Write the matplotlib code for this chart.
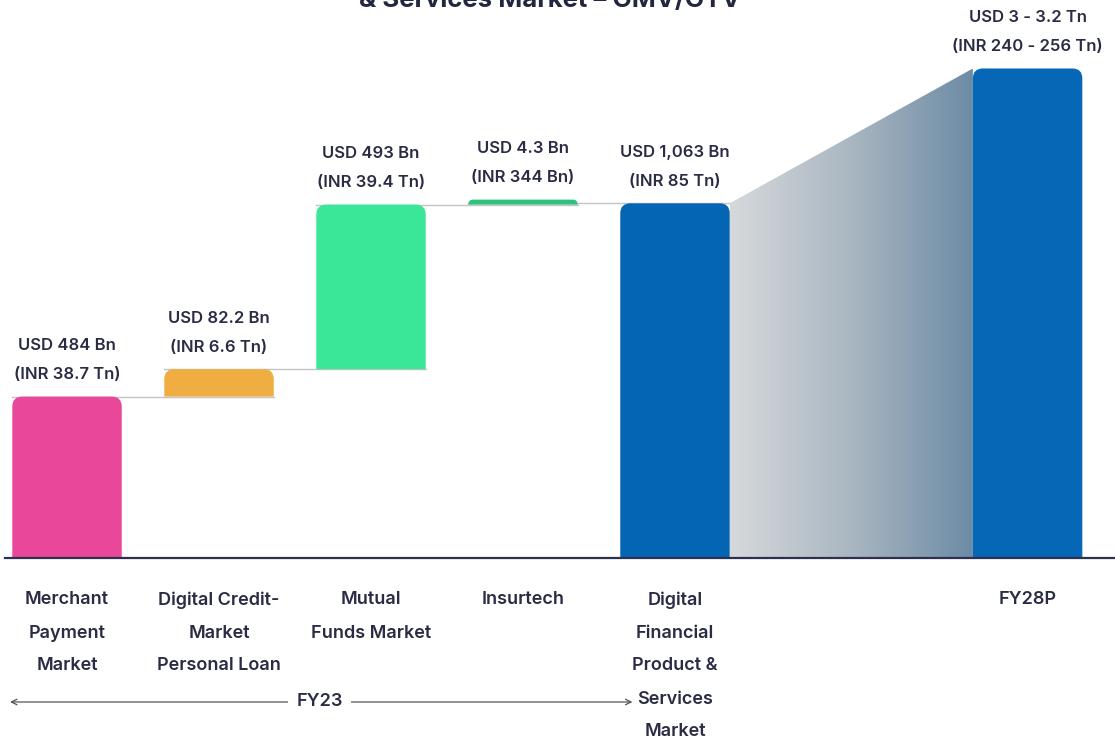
import numpy as np
import matplotlib
matplotlib.use("Agg")
import matplotlib.pyplot as plt
from matplotlib.patches import PathPatch, Polygon
from matplotlib.path import Path
from matplotlib.transforms import IdentityTransform

plt.rcParams['font.family'] = ['Inter', 'DejaVu Sans']

# market size in USD Bn (FY23 build-up, then FY28 projection)
categories = [["Merchant", "Payment", "Market"],
              ["Digital Credit-", "Market", "Personal Loan"],
              ["Mutual", "Funds Market"],
              ["Insurtech"],
              ["Digital", "Financial", "Product &", "Services", "Market"],
              ["FY28P"]]
usd_labels = ["USD 484 Bn", "USD 82.2 Bn", "USD 493 Bn", "USD 4.3 Bn",
              "USD 1,063 Bn", "USD 3 - 3.2 Tn"]
inr_labels = ["(INR 38.7 Tn)", "(INR 6.6 Tn)", "(INR 39.4 Tn)", "(INR 344 Bn)",
              "(INR 85 Tn)", "(INR 240 - 256 Tn)"]
segments = [484, 82.2, 493, 4.3]      # stacked pieces of FY23
fy23_total = 1063
fy28_range = (3000, 3200)

colors = ["#e9489a", "#f0ad42", "#3ae698", "#2fc27f", "#0565b5", "#0767b7"]
TEXT = "#2a2c44"

positions = [0, 1, 2, 3, 4, 6.32]
BAR_W = 0.72

# above FY23 total the axis is compressed so the projection fits
BREAK = 1063
K = 0.1984


def fwd(y):
    y = np.asarray(y, dtype=float)
    return np.where(y <= BREAK, y, BREAK + (y - BREAK) * K)


def inv(y):
    y = np.asarray(y, dtype=float)
    return np.where(y <= BREAK, y, BREAK + (y - BREAK) / K)


fig = plt.figure(figsize=(11.15, 7.44), dpi=100)
ax = fig.add_axes([0, 0, 1, 1])
ax.set_yscale('function', functions=(fwd, inv))
ax.set_xlim(-0.441, 6.895)
ax.set_ylim(-557, 4134)
ax.axis('off')

fy28 = sum(fy28_range) / 2
bottoms = list(np.cumsum([0] + segments[:-1])) + [0, 0]
tops = list(np.cumsum(segments)) + [fy23_total, fy28]


def rounded_bar(x, bottom, top, color, r=10, min_h=5):
    # bar with rounded top corners only, built in pixel space
    x0, y0 = ax.transData.transform((x - BAR_W / 2, bottom))
    x1, y1 = ax.transData.transform((x + BAR_W / 2, top))
    h = max(y1 - y0, min_h)
    yt = y0 + h
    rr = min(r, h)
    verts = [(x0, y0), (x0, yt - rr), (x0, yt), (x0 + rr, yt),
             (x1 - rr, yt), (x1, yt), (x1, yt - rr), (x1, y0), (x0, y0)]
    codes = [Path.MOVETO, Path.LINETO, Path.CURVE3, Path.CURVE3,
             Path.LINETO, Path.CURVE3, Path.CURVE3, Path.LINETO, Path.CLOSEPOLY]
    ax.add_artist(PathPatch(Path(verts, codes), transform=IdentityTransform(),
                            fc=color, ec='none', zorder=3))
    return h


# connectors between the stacked steps
for i in range(4):
    ax.plot([positions[i] - BAR_W / 2, positions[i + 1] + BAR_W / 2],
            [tops[i], tops[i]], color="#c4c4c4", lw=1, zorder=1)

# gradient wedge from FY23 total to FY28P
xl = positions[4] + BAR_W / 2
xr = positions[5] - BAR_W / 2
wedge = Polygon([(xl, 0), (xl, fy23_total), (xr, fy28), (xr, 0)],
                closed=True, fc='none', ec='none')
ax.add_patch(wedge)
grad = np.linspace(0, 1, 256).reshape(1, -1)
cmap = matplotlib.colors.LinearSegmentedColormap.from_list(
    "wedge", ["#d6d9dc", "#a9b6c1", "#6c8ba5"])
img = ax.imshow(grad, extent=[xl, xr, 0, fy28], aspect='auto', cmap=cmap,
                zorder=2, interpolation='bilinear')
img.set_clip_path(wedge)
ax.set_xlim(-0.441, 6.895)
ax.set_ylim(-557, 4134)

for i, x in enumerate(positions):
    h = rounded_bar(x, bottoms[i], tops[i], colors[i])
    ax.annotate(inr_labels[i], xy=(x, bottoms[i]), xytext=(0, h + 22),
                textcoords='offset pixels', ha='center', va='center',
                fontsize=12, color=TEXT, fontweight='semibold')
    ax.annotate(usd_labels[i], xy=(x, bottoms[i]), xytext=(0, h + 51),
                textcoords='offset pixels', ha='center', va='center',
                fontsize=12, color=TEXT, fontweight='semibold')

# baseline
ax.plot([-0.41, 6.9], [0, 0], color="#2e3050", lw=1.6, zorder=4)

# category names under the bars
H = 744
for x, lines in zip(positions, categories):
    for j, line in enumerate(lines):
        ax.text(x, 1 - (600 + 33 * j) / H, line, transform=ax.get_xaxis_transform(),
                ha='center', va='center', fontsize=13, color=TEXT,
                fontweight='semibold')

# FY23 span arrow
y_arrow = 1 - 702 / H
ax.annotate("", xy=(-0.375, y_arrow), xytext=(3.72, y_arrow),
            xycoords=ax.get_xaxis_transform(), textcoords=ax.get_xaxis_transform(),
            arrowprops=dict(arrowstyle='<->', color="#555555", lw=0.9,
                            shrinkA=0, shrinkB=0))
ax.text(1.664, y_arrow, "FY23", transform=ax.get_xaxis_transform(),
        ha='center', va='center', fontsize=13, color=TEXT, fontweight='semibold',
        bbox=dict(fc='white', ec='none', pad=6))

fig.text(0.493, 1 - 7 / H, "& Services Market \u2013 GMV/GTV", ha='center',
         va='baseline', fontsize=18.5, fontweight='bold', color="#23263f")

fig.savefig("out.png", dpi=100)
